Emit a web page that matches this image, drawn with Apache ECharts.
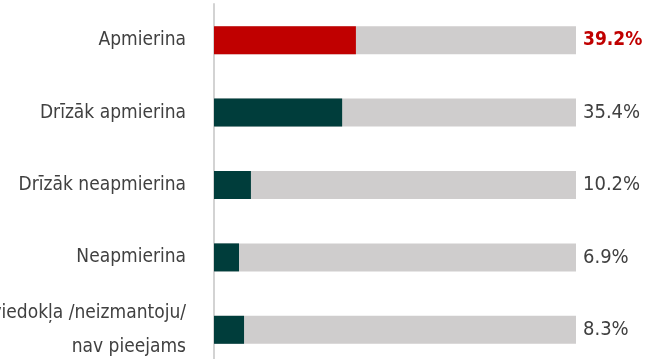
<!DOCTYPE html>
<html>
<head>
<meta charset="utf-8">
<style>
  html, body { margin: 0; padding: 0; background: #fff; }
  #chart { width: 652px; height: 359px; }
</style>
<script src="https://cdn.jsdelivr.net/npm/echarts@6/dist/echarts.min.js"></script>
</head>
<body>
<div id="chart"></div>
<script>
// Satisfaction answers (share of respondents, %)
const categories = [
  'Apmierina',
  'Drīzāk apmierina',
  'Drīzāk neapmierina',
  'Neapmierina',
  'Nav viedokļa /neizmantoju/\nnav pieejams'
];
const values = [39.2, 35.4, 10.2, 6.9, 8.3];
const barColors = ['#C00000', '#003D3B', '#003D3B', '#003D3B', '#003D3B'];
const scaleMax = 100;

const FONT = '"DejaVu Sans Condensed", "Liberation Sans Narrow", sans-serif';
const TEXT = '#404040';

const chart = echarts.init(document.getElementById('chart'));
chart.setOption({
  animation: false,
  grid: { left: 214, right: 76, top: 4, bottom: -7, outerBoundsMode: 'none', containLabel: false },
  xAxis: {
    type: 'value',
    min: 0,
    max: scaleMax,
    show: false
  },
  yAxis: {
    type: 'category',
    inverse: true,
    data: categories,
    axisLine: { show: true, lineStyle: { color: '#D3D3D3', width: 2 } },
    axisTick: { show: false },
    axisLabel: {
      margin: 28,
      fontFamily: FONT,
      fontSize: 19,
      color: TEXT,
      lineHeight: 34,
      align: 'right'
    }
  },
  series: [
    {
      // full-scale track behind each bar, carries the value label
      type: 'bar',
      data: values.map((v, i) => ({
        value: scaleMax,
        label: i === 0
          ? { color: '#C00000', fontWeight: 'bold', fontSize: 19 }
          : { color: TEXT }
      })),
      barWidth: 28,
      barGap: '-100%',
      itemStyle: { color: '#CFCDCD' },
      silent: true,
      z: 1,
      label: {
        show: true,
        position: 'right',
        distance: 7,
        fontFamily: FONT,
        fontSize: 20,
        formatter: p => values[p.dataIndex].toFixed(1) + '%'
      }
    },
    {
      type: 'bar',
      data: values.map((v, i) => ({ value: v, itemStyle: { color: barColors[i] } })),
      barWidth: 28,
      z: 2
    }
  ]
});
</script>
</body>
</html>
